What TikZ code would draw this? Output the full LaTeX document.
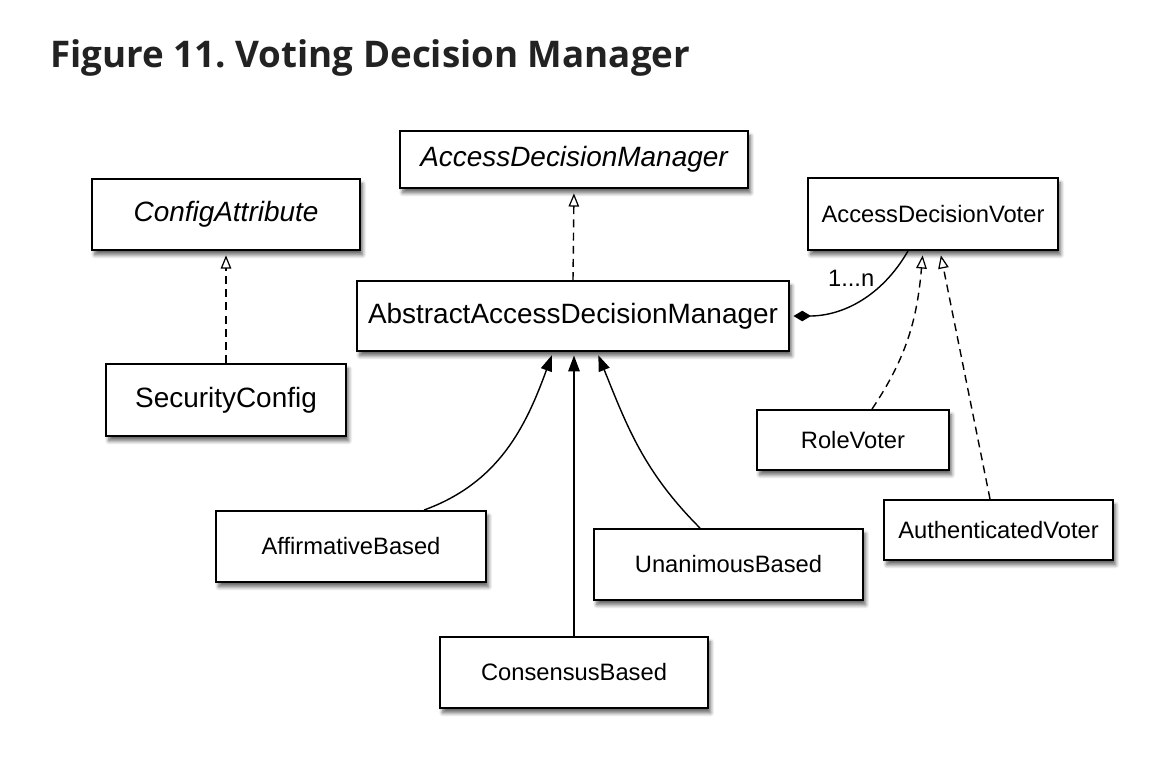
\documentclass[tikz,border=0pt]{standalone}
\usepackage{fontspec}
\setmainfont{Liberation Sans}
\newfontfamily\titlefont{Open Sans}
\usetikzlibrary{arrows.meta,shadows.blur}
\definecolor{titlegray}{HTML}{222222}

\tikzset{
  cls/.style={draw, line width=1.1pt, fill=white, inner sep=0pt,
    blur shadow={shadow xshift=1.5pt, shadow yshift=-2.8pt, shadow blur steps=6, shadow opacity=60}},
  big/.style={font=\fontsize{15.9}{18}\selectfont},
  small/.style={font=\fontsize{13.5}{16}\selectfont},
  realize/.style={line width=0.8pt, dash pattern=on 4.5pt off 3pt,
    -{Triangle[open, width=6pt, length=7.5pt, line width=0.7pt]}, shorten >=2.5pt},
  inherit/.style={line width=0.8pt, -{Triangle[width=6.5pt, length=9pt]}, shorten >=2pt},
  aggr/.style={line width=0.8pt, {Diamond[width=6pt, length=10pt]}-, shorten <=2pt}
}

\begin{document}
\begin{tikzpicture}
        \useasboundingbox (0,0) rectangle (23.52,-15.32);

        % Title
        \node[anchor=base west, inner sep=0pt, text=titlegray, font=\titlefont\bfseries\fontsize{20.9}{24}\selectfont] (title) at (1.0,-1.34) {\frenchspacing Figure 11. Voting Decision Manager};

        % Interfaces
        \node[cls, big, minimum width=6.96cm, minimum height=1.14cm] (adm) at (11.48,-3.19) {\itshape AccessDecisionManager};
        \node[cls, big, minimum width=5.36cm, minimum height=1.42cm] (cfg) at (4.52,-4.29) {\itshape ConfigAttribute};
        \node[cls, small, minimum width=5.0cm, minimum height=1.44cm] (adv) at (18.66,-4.28) {AccessDecisionVoter};

        % Implementations
        \node[cls, big, minimum width=8.64cm, minimum height=1.40cm] (aadm) at (11.46,-6.32) {AbstractAccessDecisionManager};
        \node[cls, big, minimum width=4.8cm, minimum height=1.44cm] (sec) at (4.52,-8.0) {SecurityConfig};
        \node[cls, small, minimum width=3.84cm, minimum height=1.2cm] (role) at (17.06,-8.8) {RoleVoter};
        \node[cls, small, minimum width=4.58cm, minimum height=1.2cm] (auth) at (19.97,-10.6) {AuthenticatedVoter};

        % Decision managers
        \node[cls, small, minimum width=5.4cm, minimum height=1.42cm] (aff) at (7.02,-10.93) {AffirmativeBased};
        \node[cls, small, minimum width=5.38cm, minimum height=1.42cm] (una) at (14.57,-11.29) {UnanimousBased};
        \node[cls, small, minimum width=5.36cm, minimum height=1.42cm] (con) at (11.48,-13.45) {ConsensusBased};

        % Realizations
        \draw[realize] (aadm.north) -- (adm.south);
        \draw[realize] (sec.north) -- (cfg.south);
        \draw[realize] ([xshift=0.38cm]role.north) to[out=56, in=-95] ([xshift=-0.2cm]adv.south);
        \draw[realize] ([xshift=-0.17cm]auth.north) -- ([xshift=0.14cm]adv.south);

        % Inheritance
        \draw[inherit] ([xshift=1.46cm]aff.north) to[out=20, in=-110] ([xshift=-0.4cm]aadm.south);
        \draw[inherit] (con.north) -- (aadm.south -| con.north);
        \draw[inherit] ([xshift=-0.57cm]una.north) to[out=135, in=-68] ([xshift=0.48cm]aadm.south);

        % Aggregation
        \draw[aggr] (aadm.east) to[out=0, in=-120] node[pos=0.66, above left, small, inner sep=1pt] (mult) {1...n} ([xshift=-0.5cm]adv.south);
    \end{tikzpicture}
\end{document}
